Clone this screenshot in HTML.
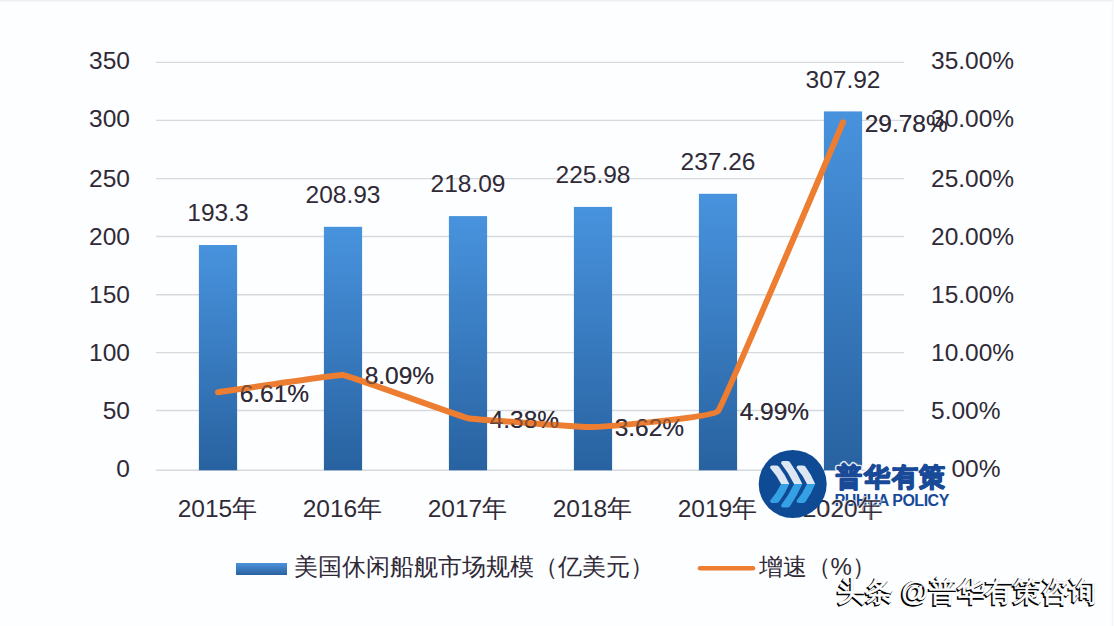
<!DOCTYPE html>
<html><head><meta charset="utf-8"><style>
html,body{margin:0;padding:0;background:#fff;}
body{width:1114px;height:626px;overflow:hidden;position:relative;}
svg{position:absolute;left:0;top:0;}
text{font-family:"Liberation Sans",sans-serif;}
</style></head><body>
<svg width="1114" height="626" viewBox="0 0 1114 626">
<defs>
<linearGradient id="bar" x1="0" y1="0" x2="0" y2="1">
<stop offset="0" stop-color="#4893de"/>
<stop offset="1" stop-color="#2862a0"/>
</linearGradient>
<linearGradient id="leg" x1="0" y1="0" x2="0" y2="1">
<stop offset="0" stop-color="#4b93db"/>
<stop offset="1" stop-color="#2a62a0"/>
</linearGradient>
<clipPath id="clipR"><rect x="827" y="480" width="100" height="50"/></clipPath>
</defs>
<rect x="0" y="0" width="1114" height="626" fill="#fdfeff"/>
<line x1="0" y1="0.8" x2="1114" y2="0.8" stroke="#eeeff1" stroke-width="1.6"/>
<line x1="1112.5" y1="0" x2="1112.5" y2="626" stroke="#f4f5f6" stroke-width="1.5"/>

<line x1="156" y1="62.4" x2="904" y2="62.4" stroke="#d6d9de" stroke-width="1.4"/>
<line x1="156" y1="120.4" x2="904" y2="120.4" stroke="#d6d9de" stroke-width="1.4"/>
<line x1="156" y1="178.6" x2="904" y2="178.6" stroke="#d6d9de" stroke-width="1.4"/>
<line x1="156" y1="236.5" x2="904" y2="236.5" stroke="#d6d9de" stroke-width="1.4"/>
<line x1="156" y1="294.7" x2="904" y2="294.7" stroke="#d6d9de" stroke-width="1.4"/>
<line x1="156" y1="352.6" x2="904" y2="352.6" stroke="#d6d9de" stroke-width="1.4"/>
<line x1="156" y1="410.5" x2="904" y2="410.5" stroke="#d6d9de" stroke-width="1.4"/>
<line x1="156" y1="470.3" x2="904" y2="470.3" stroke="#d6d9de" stroke-width="1.4"/>
<text x="130" y="69.1" font-size="24.5" fill="#302a37" text-anchor="end">350</text>
<text x="130" y="126.7" font-size="24.5" fill="#302a37" text-anchor="end">300</text>
<text x="130" y="187.3" font-size="24.5" fill="#302a37" text-anchor="end">250</text>
<text x="130" y="245.3" font-size="24.5" fill="#302a37" text-anchor="end">200</text>
<text x="130" y="303.2" font-size="24.5" fill="#302a37" text-anchor="end">150</text>
<text x="130" y="361.2" font-size="24.5" fill="#302a37" text-anchor="end">100</text>
<text x="130" y="419.2" font-size="24.5" fill="#302a37" text-anchor="end">50</text>
<text x="130" y="477.1" font-size="24.5" fill="#302a37" text-anchor="end">0</text>
<text x="931" y="69.1" font-size="24.5" fill="#302a37">35.00%</text>
<text x="931" y="126.7" font-size="24.5" fill="#302a37">30.00%</text>
<text x="931" y="187.3" font-size="24.5" fill="#302a37">25.00%</text>
<text x="931" y="245.3" font-size="24.5" fill="#302a37">20.00%</text>
<text x="931" y="303.2" font-size="24.5" fill="#302a37">15.00%</text>
<text x="931" y="361.2" font-size="24.5" fill="#302a37">10.00%</text>
<text x="931" y="419.2" font-size="24.5" fill="#302a37">5.00%</text>
<text x="931" y="477.1" font-size="24.5" fill="#302a37">0.00%</text>
<rect x="198.9" y="245.0" width="38.2" height="225.3" fill="url(#bar)"/>
<text x="218" y="221.3" font-size="24.5" fill="#302a37" text-anchor="middle">193.3</text>
<rect x="323.9" y="226.8" width="38.2" height="243.5" fill="url(#bar)"/>
<text x="343" y="203.1" font-size="24.5" fill="#302a37" text-anchor="middle">208.93</text>
<rect x="448.9" y="216.1" width="38.2" height="254.2" fill="url(#bar)"/>
<text x="468" y="192.4" font-size="24.5" fill="#302a37" text-anchor="middle">218.09</text>
<rect x="573.9" y="206.9" width="38.2" height="263.4" fill="url(#bar)"/>
<text x="593" y="183.2" font-size="24.5" fill="#302a37" text-anchor="middle">225.98</text>
<rect x="698.9" y="193.8" width="38.2" height="276.5" fill="url(#bar)"/>
<text x="718" y="170.1" font-size="24.5" fill="#302a37" text-anchor="middle">237.26</text>
<rect x="823.9" y="111.4" width="38.2" height="358.9" fill="url(#bar)"/>
<text x="843" y="87.7" font-size="24.5" fill="#302a37" text-anchor="middle">307.92</text>
<text x="217.4" y="516.5" font-size="24.5" fill="#302a37" text-anchor="middle">2015年</text>
<text x="342.4" y="516.5" font-size="24.5" fill="#302a37" text-anchor="middle">2016年</text>
<text x="467.4" y="516.5" font-size="24.5" fill="#302a37" text-anchor="middle">2017年</text>
<text x="592.4" y="516.5" font-size="24.5" fill="#302a37" text-anchor="middle">2018年</text>
<text x="717.4" y="516.5" font-size="24.5" fill="#302a37" text-anchor="middle">2019年</text>
<text x="842.4" y="516.5" font-size="24.5" fill="#302a37" text-anchor="middle">2020年</text>
<text x="239.7" y="401.6" font-size="24.5" fill="#302a37">6.61%</text>
<text x="364.7" y="384.3" font-size="24.5" fill="#302a37">8.09%</text>
<text x="489.7" y="427.6" font-size="24.5" fill="#302a37">4.38%</text>
<text x="614.7" y="436.4" font-size="24.5" fill="#302a37">3.62%</text>
<text x="739.7" y="420.4" font-size="24.5" fill="#302a37">4.99%</text>
<text x="864.7" y="131.5" font-size="24.5" fill="#302a37">29.78%</text>
<path d="M218,392.27 C220.78,391.88 337.44,374.44 343,375.02 C348.56,375.59 462.44,417.10 468,418.25 C473.56,419.41 587.44,427.27 593,427.11 C598.56,426.95 712.44,417.92 718,411.15 C723.56,404.37 840.22,128.66 843,122.24" fill="none" stroke="#ed7d31" stroke-width="6" stroke-linejoin="round" stroke-linecap="round"/>
<text x="239.7" y="401.6" font-size="24.5" fill="#302a37" opacity="0.55">6.61%</text>
<text x="364.7" y="384.3" font-size="24.5" fill="#302a37" opacity="0.55">8.09%</text>
<text x="489.7" y="427.6" font-size="24.5" fill="#302a37" opacity="0.55">4.38%</text>
<text x="614.7" y="436.4" font-size="24.5" fill="#302a37" opacity="0.55">3.62%</text>
<text x="739.7" y="420.4" font-size="24.5" fill="#302a37" opacity="0.55">4.99%</text>
<text x="864.7" y="131.5" font-size="24.5" fill="#302a37" opacity="0.55">29.78%</text>
<rect x="236" y="563" width="51" height="12" fill="url(#leg)"/>
<text x="293.5" y="574.5" font-size="24" fill="#302a37">美国休闲船舰市场规模（亿美元）</text>
<line x1="700" y1="568.3" x2="753" y2="568.3" stroke="#ed7d31" stroke-width="4.5" stroke-linecap="round"/>
<text x="758.5" y="574.5" font-size="24" fill="#302a37">增速（%）</text>
<g>
<circle cx="792.7" cy="484" r="34" fill="#0f4b95"/>
<path d="M770.00,467.70 Q770.00,465.50 772.20,465.50 L776.00,465.50 Q778.20,465.50 779.00,466.70 Q785.27,474.68 789.30,484.00 L781.10,484.00 Q776.62,475.12 770.00,467.70 Z" fill="#dce7f3"/><path d="M781.10,484.00 L789.30,484.00 Q785.28,493.55 779.00,501.80 Q778.20,503.00 776.00,503.00 L772.20,503.00 Q770.00,503.00 770.00,500.80 Q776.63,493.12 781.10,484.00 Z" fill="#35a0e4"/><path d="M781.00,463.20 Q781.00,461.00 783.20,461.00 L787.00,461.00 Q789.20,461.00 790.00,462.20 Q797.28,472.46 802.30,484.00 L794.10,484.00 Q788.65,472.91 781.00,463.20 Z" fill="#dce7f3"/><path d="M794.10,484.00 L802.30,484.00 Q797.29,495.78 790.00,506.30 Q789.20,507.50 787.00,507.50 L783.20,507.50 Q781.00,507.50 781.00,505.30 Q788.66,495.33 794.10,484.00 Z" fill="#35a0e4"/><path d="M796.50,467.70 Q796.50,465.50 798.70,465.50 L802.50,465.50 Q804.70,465.50 805.50,466.70 Q811.48,474.71 815.20,484.00 L807.00,484.00 Q802.84,475.15 796.50,467.70 Z" fill="#dce7f3"/><path d="M807.00,484.00 L815.20,484.00 Q811.49,493.52 805.50,501.80 Q804.70,503.00 802.50,503.00 L798.70,503.00 Q796.50,503.00 796.50,500.80 Q802.85,493.09 807.00,484.00 Z" fill="#35a0e4"/>
</g>
<text x="836" y="485.5" font-size="26" letter-spacing="1.8" font-weight="bold" fill="#fff" stroke="#fff" stroke-width="4.5" stroke-linejoin="round" opacity="0.85">普华有策</text>
<rect x="925" y="455" width="27" height="28" fill="#fff"/>
<text x="836" y="485.5" font-size="26" letter-spacing="1.8" font-weight="bold" fill="#184a98" stroke="#184a98" stroke-width="1.6" stroke-linejoin="round">普华有策</text>
<text x="834.5" y="506.3" font-size="16" letter-spacing="-0.5" font-weight="bold" fill="#184a98">PUHUA POLICY</text>
<text x="843" y="516.5" font-size="24.5" fill="#302a37" text-anchor="middle" stroke="#fff" stroke-width="1.5" paint-order="stroke" opacity="0.9" clip-path="url(#clipR)">2020年</text>
<text x="835.8" y="602.2" font-size="28" fill="#000" stroke="#000" stroke-width="1.8">头条 @普华有策咨询</text>
<text x="837" y="601" font-size="28" fill="#fff" stroke="#fff" stroke-width="0.6">头条 @普华有策咨询</text>
</svg></body></html>
